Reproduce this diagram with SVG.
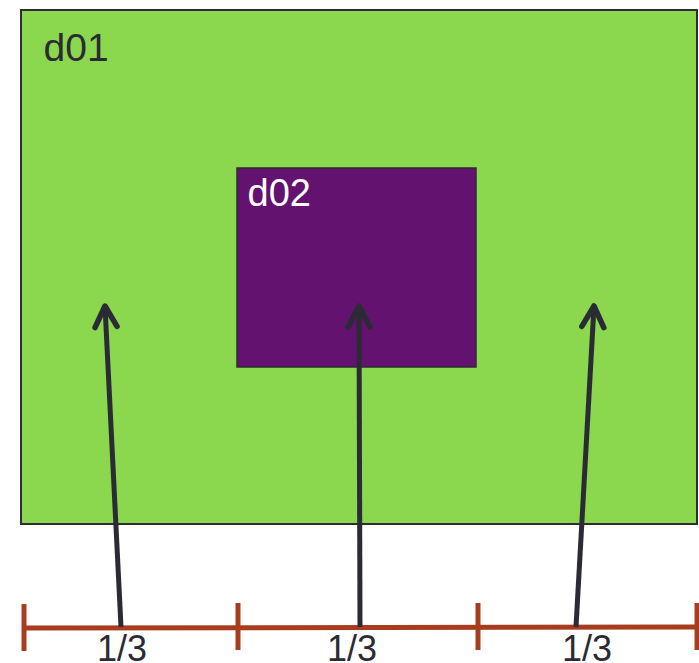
<svg xmlns="http://www.w3.org/2000/svg" width="699" height="663" viewBox="0 0 699 663">
<style>
.lbl{font-family:"Liberation Sans",Arial,sans-serif;}
.arr{stroke:#2b2b36;stroke-width:5;fill:none;}
.rul{stroke:#a83c1f;stroke-width:5;fill:none;}
</style>
<defs>
<marker id="head" markerUnits="userSpaceOnUse" markerWidth="40" markerHeight="40" viewBox="-30 -20 40 40" refX="0" refY="0" orient="auto">
<path d="M-21,-11 L0,0 L-21,11" fill="none" stroke="#2b2b36" stroke-width="5.5" stroke-linecap="round" stroke-linejoin="round"/>
</marker>
</defs>
<rect width="699" height="663" fill="#ffffff"/>
<g id="d01">
<rect x="21" y="10" width="676" height="514" fill="#8bd74d" stroke="#2d2d35" stroke-width="2"/>
<text class="lbl" x="43.5" y="61" font-size="39" fill="#2b2b36">d01</text>
</g>
<g id="d02">
<rect x="237" y="168" width="239" height="199" fill="#63126f" stroke="#2d2d35" stroke-width="1.5"/>
<text class="lbl" x="247.5" y="206" font-size="38" fill="#ffffff">d02</text>
</g>
<g id="ruler">
<line class="rul" x1="24" y1="628" x2="697" y2="627"/>
<line class="rul" x1="24" y1="604" x2="24" y2="651"/>
<line class="rul" x1="238" y1="603" x2="238" y2="650"/>
<line class="rul" x1="478" y1="603" x2="478" y2="650"/>
<line class="rul" x1="697" y1="603" x2="697" y2="650"/>
<text class="lbl" x="122" y="661" font-size="36" fill="#2b2b36" text-anchor="middle">1/3</text>
<text class="lbl" x="352" y="661" font-size="36" fill="#2b2b36" text-anchor="middle">1/3</text>
<text class="lbl" x="587" y="661" font-size="36" fill="#2b2b36" text-anchor="middle">1/3</text>
</g>
<g id="connectors">
<line class="arr" x1="121" y1="627" x2="105" y2="306" marker-end="url(#head)"/>
<line class="arr" x1="360" y1="627" x2="359" y2="306" marker-end="url(#head)"/>
<line class="arr" x1="576" y1="627" x2="594" y2="306" marker-end="url(#head)"/>
</g>
</svg>
